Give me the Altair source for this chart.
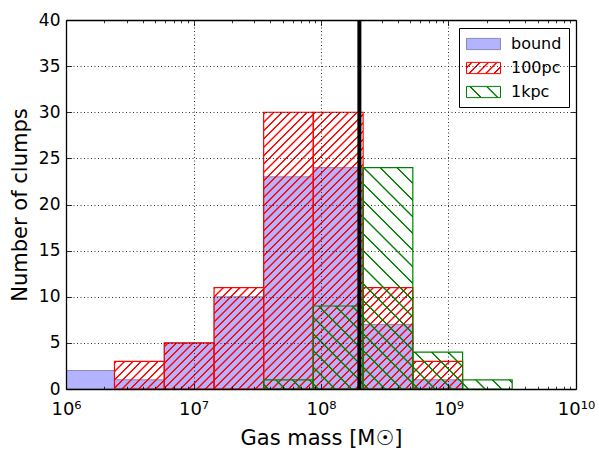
import json
import math
import altair as alt

# ---------------- data ----------------
EDGES = [9.8e5, 2.4e6, 5.9e6, 1.45e7, 3.55e7, 8.7e7, 2.14e8, 5.25e8, 1.29e9, 3.16e9]
SERIES = ["bound", "100pc", "1kpc"]
BOUND = [2, 1, 5, 10, 23, 24, 7, 1, 0]
PC100 = [0, 3, 5, 11, 30, 30, 11, 3, 0]
KPC1 = [0, 0, 0, 0, 1, 9, 24, 4, 1]
VLINE = [2e8]
XTICKS = [1e6, 1e7, 1e8, 1e9, 1e10]
XTICK_LABELS = ["10⁶", "10⁷", "10⁸", "10⁹", "10¹⁰"]
XMINOR = [m * 10 ** e for e in range(6, 10) for m in range(2, 10)]
YTICKS = [0, 5, 10, 15, 20, 25, 30, 35, 40]

# ---------------- styling ----------------
W, H = 510, 369
PAD = {"left": 66, "top": 20, "right": 23, "bottom": 61}
XMIN, XMAX, YMAX = 1e6, 1e10, 40
FONT = "DejaVu Sans"
BLUE_FILL = "#b3b3ff"
BLUE_EDGE = "#8a8ab8"
RED = (255, 0, 0)
GREEN = (0, 128, 0)
P_RED = 100 / 12.0    # '//' hatch period (px, horizontal)
P_GREEN = 100 / 6.0   # '\'  hatch period


def px_x(v):
    return W * (math.log10(v) - math.log10(XMIN)) / (math.log10(XMAX) - math.log10(XMIN))


def px_y(c):
    return H * (1 - c / YMAX)


def hatch_gradient(w, h, rgb, period, direction, base, r_full=0.4, r_edge=1.0):
    """Linear gradient (object bounding box) that draws 45deg hatch lines."""
    L = w + h
    k = L / (w * w + h * h)
    if direction == "/":
        x1, y1, x2, y2 = 0, 0, k * w, k * h
    else:
        x1, y1, x2, y2 = 0, 1, k * w, 1 - k * h
    sq2 = math.sqrt(2)
    rf, re = r_full * sq2, r_edge * sq2

    def alpha(s):
        g = (s + base) % period
        d = min(g, period - g)
        if d <= rf:
            return 1.0
        if d >= re:
            return 0.0
        return (re - d) / (re - rf)

    pts = {0.0, L}
    m0 = math.floor((base - re) / period) - 1
    m1 = math.ceil((base + L + re) / period) + 1
    for m in range(m0, m1 + 1):
        c = m * period - base
        for dd in (-re, -rf, rf, re):
            s = c + dd
            if 0 < s < L:
                pts.add(s)
    r, g, b = rgb
    stops = []
    for s in sorted(pts):
        stops.append({"offset": round(s / L, 5),
                      "color": f"rgba({r},{g},{b},{alpha(s):.3f})"})
    return {"gradient": "linear", "x1": round(x1, 5), "y1": round(y1, 5),
            "x2": round(x2, 5), "y2": round(y2, 5), "stops": stops}


def rows_for(series, counts, rgb=None, period=None, direction=None):
    rows = []
    for i, c in enumerate(counts):
        if c <= 0:
            continue
        lo, hi = EDGES[i], EDGES[i + 1]
        row = {"series": series, "lo": lo, "hi": hi, "count": c, "fill": BLUE_FILL}
        if rgb is not None:
            X0, X1 = px_x(lo), px_x(hi)
            Y0 = px_y(c)
            w, h = X1 - X0, H - Y0
            base = X0 + Y0 if direction == "/" else X0 - H
            row["fill"] = hatch_gradient(w, h, rgb, period, direction, base)
        rows.append(row)
    return rows


bound_rows = rows_for("bound", BOUND)
pc_rows = rows_for("100pc", PC100, RED, P_RED, "/")
kpc_rows = rows_for("1kpc", KPC1, GREEN, P_GREEN, "\\")

# legend swatches: 34 x 11.2 px rectangles
SYM_R = 8.5
SYM_W, SYM_H = 4 * SYM_R, 1.32 * SYM_R
leg_red = hatch_gradient(SYM_W, SYM_H, RED, P_RED, "/", 3.0)
leg_green = hatch_gradient(SYM_W, SYM_H, GREEN, P_GREEN, "\\", 2.0)
sym_fill_expr = ("datum.value === 'bound' ? '" + BLUE_FILL + "' : datum.value === '100pc' ? "
                 + json.dumps(leg_red) + " : " + json.dumps(leg_green))

xscale = alt.Scale(type="log", domain=[XMIN, XMAX], nice=False)
yscale = alt.Scale(domain=[0, YMAX], nice=False)
stroke_scale = alt.Scale(domain=SERIES, range=[BLUE_EDGE, "#ff0000", "#008000"])

major_test = "abs(log(datum.value)/LN10 - round(log(datum.value)/LN10)) < 0.001"
xtick_size = {"condition": {"test": major_test, "value": 5.6}, "value": 2.8}

label_expr = json.dumps(XTICK_LABELS, ensure_ascii=False) + "[round(log(datum.value)/LN10) - 6]"

x_label_axis = alt.Axis(
    orient="bottom", values=XTICKS, labelExpr=label_expr, ticks=False, tickSize=0,
    domain=True, domainColor="black", domainWidth=1.3,
    grid=True, gridColor="black", gridDash=[1, 2.5], gridWidth=0.8,
    labelFontSize=18, labelPadding=11, labelFlush=False, labelOverlap=False,
    title="Gas mass [M☉]", titleFontSize=21, titlePadding=9, zindex=1)
y_label_axis = alt.Axis(
    orient="left", values=YTICKS, ticks=False, tickSize=0,
    domain=True, domainColor="black", domainWidth=1.3,
    grid=True, gridColor="black", gridDash=[1, 2.5], gridWidth=0.8,
    labelFontSize=17, labelPadding=6, labelOverlap=False,
    title="Number of clumps", titleFontSize=21, titlePadding=8, zindex=1)

# inward ticks: axes placed on the opposite edge via negative offsets
x_ticks_bottom = alt.Axis(orient="top", offset=-H, values=XTICKS + XMINOR, labels=False,
                          domain=False, grid=False, tickSize=xtick_size, tickColor="black",
                          tickWidth=0.8, title=None, zindex=1)
x_ticks_top = alt.Axis(orient="bottom", offset=-H, values=XTICKS + XMINOR, labels=False,
                       domain=True, domainColor="black", domainWidth=1.3, grid=False,
                       tickSize=xtick_size, tickColor="black", tickWidth=0.8, title=None, zindex=1)
y_ticks_left = alt.Axis(orient="right", offset=-W, values=YTICKS, labels=False,
                        domain=False, grid=False, tickSize=5.6, tickColor="black",
                        tickWidth=0.8, title=None, zindex=1)
y_ticks_right = alt.Axis(orient="left", offset=-W, values=YTICKS, labels=False,
                         domain=True, domainColor="black", domainWidth=1.3, grid=False,
                         tickSize=5.6, tickColor="black", tickWidth=0.8, title=None, zindex=1)

legend = alt.Legend(
    orient="none", legendX=393, legendY=8, direction="vertical", title=None,
    symbolType="M-1,-0.66H3V0.66H-1Z", symbolSize=(2 * SYM_R) ** 2, symbolStrokeWidth=1,
    symbolFillColor=alt.ExprRef(sym_fill_expr), symbolOpacity=1,
    labelFontSize=16, labelFont=FONT, labelColor="black", labelOffset=27,
    rowPadding=7, padding=7, strokeColor="black", fillColor="white", cornerRadius=0)


def layer(rows, xaxis, yaxis, stroke_width):
    return alt.Chart(alt.Data(values=rows)).mark_rect(strokeWidth=stroke_width, clip=True).encode(
        x=alt.X("lo:Q", scale=xscale, axis=xaxis),
        x2=alt.X2("hi"),
        y=alt.Y("count:Q", scale=yscale, axis=yaxis),
        y2=alt.datum(0),
        fill=alt.Fill("fill:N", scale=None, legend=None),
        stroke=alt.Stroke("series:N", scale=stroke_scale, legend=legend),
    )


bound_layer = layer(bound_rows, x_label_axis, y_label_axis, 1)
pc_layer = layer(pc_rows, x_ticks_bottom, y_ticks_left, 1.2)
kpc_layer = layer(kpc_rows, x_ticks_top, y_ticks_right, 1.2)

vline_layer = alt.Chart(alt.Data(values=[{"v": v} for v in VLINE])).mark_rule(
    color="black", strokeWidth=4).encode(
    x=alt.X("v:Q", scale=xscale, axis=None),
)

chart = alt.layer(bound_layer, pc_layer, kpc_layer, vline_layer).resolve_axis(
    x="independent", y="independent"
).properties(
    width=W, height=H, padding=PAD, autosize=alt.AutoSizeParams(type="none"),
    background="white",
).configure_view(strokeWidth=0).configure_axis(
    labelFont=FONT, titleFont=FONT, labelColor="black", titleColor="black",
    titleFontWeight="normal",
).configure_legend(labelFont=FONT)

chart.save("out.html", embed_options={"renderer": "svg", "actions": False})
